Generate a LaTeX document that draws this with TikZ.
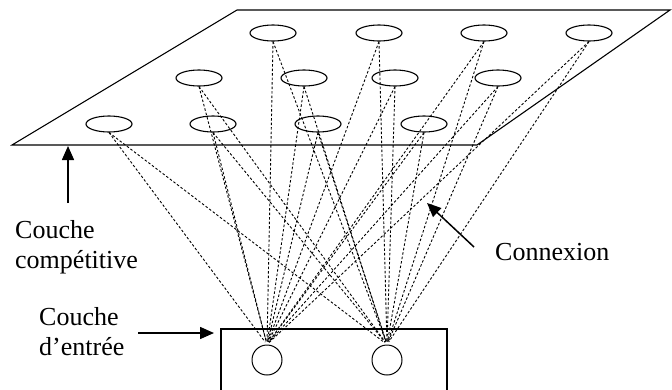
\documentclass[tikz,border=0pt]{standalone}
\usepackage{fontspec}
\setmainfont{Liberation Serif}
\usetikzlibrary{shapes.geometric,arrows.meta}
\begin{document}
\begin{tikzpicture}[x=1pt,y=-1pt,
  neuron/.style={draw,ellipse,minimum width=46pt,minimum height=16pt,inner sep=0pt,line width=1.1pt},
  inneuron/.style={draw,circle,minimum size=30pt,inner sep=0pt,line width=1pt},
  conn/.style={line width=0.9pt,dash pattern=on 2.5pt off 2pt,shorten >=3pt},
  lbl/.style={font=\fontsize{26}{30}\selectfont,inner sep=0pt,anchor=base west},
  pointer/.style={line width=1.5pt,-{Triangle[length=14pt,width=12pt]}},
  frame/.style={line width=1.1pt}
  ]
\useasboundingbox (0,0) rectangle (672,389);
% competitive layer plane
\draw[frame] (12,145) -- (477,145) -- (670,10) -- (237,10) -- cycle;
% competitive neurons
\node[neuron] (t1) at (273,33) {};
\node[neuron] (t2) at (379,33) {};
\node[neuron] (t3) at (484,33) {};
\node[neuron] (t4) at (589,33) {};
\node[neuron] (m1) at (199,78) {};
\node[neuron] (m2) at (304,78) {};
\node[neuron] (m3) at (395,78) {};
\node[neuron] (m4) at (498,78) {};
\node[neuron] (b1) at (109,124) {};
\node[neuron] (b2) at (213,124) {};
\node[neuron] (b3) at (318,124) {};
\node[neuron] (b4) at (424,124) {};
% input layer box
\draw[frame] (221,395) -- (221,329) -- (447,329) -- (447,395);
\node[inneuron] (i1) at (267,360) {};
\node[inneuron] (i2) at (387,360) {};
% connections
\foreach \n in {t1,t2,t3,t4,m1,m2,m3,m4,b1,b2,b3,b4}{
  \foreach \i in {i1,i2}{
    \draw[conn] (\n.south) -- (\i.north);
  }
}
% labels
\node[lbl] (lc1) at (15,238) {Couche};
\node[lbl] (lc2) at (15,268) {compétitive};
\node[lbl] (le1) at (39,325) {Couche};
\node[lbl] (le2) at (39,355) {d’entrée};
\node[lbl] (lx) at (495,260) {Connexion};
% pointer arrows
\coordinate (p1s) at (68,203);
\coordinate (p1t) at (68,146);
\coordinate (p2s) at (138,333);
\coordinate (p2t) at (214,333);
\coordinate (p3s) at (474,247);
\coordinate (p3t) at (427,203);
\draw[pointer] (p1s) -- (p1t);
\draw[pointer] (p2s) -- (p2t);
\draw[pointer] (p3s) -- (p3t);
\end{tikzpicture}
\end{document}
